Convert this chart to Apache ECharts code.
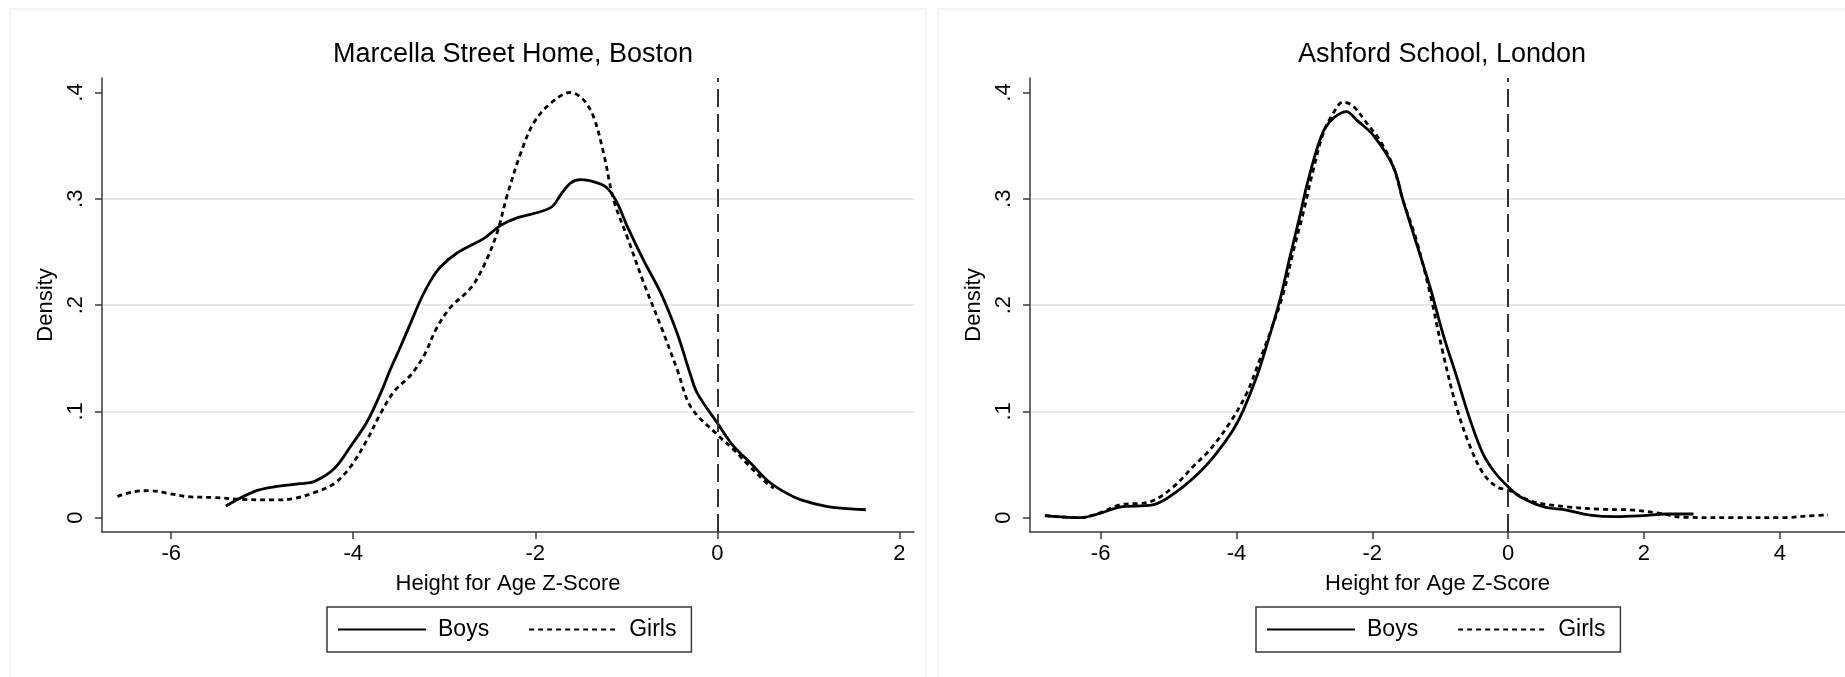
<!DOCTYPE html>
<html><head><meta charset="utf-8">
<script src="https://cdn.jsdelivr.net/npm/echarts@6/dist/echarts.min.js"></script>
<style>html,body{margin:0;padding:0;background:#fff}#c{width:1845px;height:677px}</style>
</head><body><div id="c"></div>
<script>
const panelTitles = ['Marcella Street Home, Boston', 'Ashford School, London'];
const seriesNames = ['Boys', 'Girls'];
const xAxisTitle = 'Height for Age Z-Score';
const yAxisTitle = 'Density';
const xTicksBoston = [-6, -4, -2, 0, 2];
const xTicksLondon = [-6, -4, -2, 0, 2, 4];
const yTicks = [0, 0.1, 0.2, 0.3, 0.4];
const yTickLabels = ['0', '.1', '.2', '.3', '.4'];
const refLineX = 0;

const bostonBoys = [[-5.40,0.011],[-5.09,0.0245],[-4.87,0.029],[-4.58,0.032],[-4.43,0.034],[-4.21,0.046],[-4.03,0.067],[-3.85,0.090],[-3.70,0.117],[-3.59,0.140],[-3.48,0.161],[-3.37,0.183],[-3.26,0.205],[-3.15,0.223],[-3.04,0.236],[-2.86,0.249],[-2.56,0.263],[-2.38,0.275],[-2.20,0.282],[-1.94,0.288],[-1.81,0.293],[-1.72,0.304],[-1.61,0.315],[-1.50,0.318],[-1.32,0.315],[-1.21,0.310],[-1.10,0.296],[-0.99,0.274],[-0.81,0.242],[-0.62,0.211],[-0.44,0.173],[-0.29,0.133],[-0.22,0.117],[0,0.089],[0.18,0.067],[0.37,0.051],[0.55,0.035],[0.73,0.0245],[0.92,0.0167],[1.21,0.0105],[1.63,0.0075]];
const bostonGirls = [[-6.59,0.020],[-6.41,0.0245],[-6.23,0.0254],[-6.04,0.023],[-5.82,0.0198],[-5.53,0.019],[-5.24,0.0173],[-4.87,0.0167],[-4.65,0.018],[-4.40,0.0245],[-4.21,0.032],[-4.03,0.048],[-3.85,0.073],[-3.70,0.098],[-3.55,0.119],[-3.37,0.134],[-3.22,0.153],[-3.08,0.179],[-2.93,0.198],[-2.71,0.216],[-2.56,0.238],[-2.42,0.268],[-2.31,0.303],[-2.16,0.343],[-2.02,0.371],[-1.83,0.390],[-1.61,0.400],[-1.47,0.393],[-1.36,0.377],[-1.25,0.343],[-1.14,0.299],[-0.99,0.264],[-0.81,0.221],[-0.62,0.180],[-0.44,0.139],[-0.29,0.104],[0,0.078],[0.18,0.064],[0.37,0.047],[0.55,0.032],[0.62,0.028]];
const londonBoys = [[-6.82,0.002],[-6.31,0.000],[-6.01,0.004],[-5.72,0.010],[-5.23,0.012],[-4.88,0.0245],[-4.54,0.043],[-4.29,0.061],[-4.05,0.0825],[-3.90,0.101],[-3.70,0.133],[-3.56,0.161],[-3.36,0.205],[-3.21,0.246],[-3.07,0.283],[-2.97,0.311],[-2.82,0.346],[-2.70,0.366],[-2.55,0.377],[-2.38,0.382],[-2.23,0.374],[-1.99,0.360],[-1.69,0.330],[-1.55,0.299],[-1.35,0.258],[-1.15,0.217],[-0.96,0.173],[-0.76,0.133],[-0.56,0.092],[-0.37,0.060],[-0.20,0.043],[0,0.029],[0.17,0.020],[0.52,0.0103],[0.86,0.0072],[1.20,0.0025],[1.60,0.001],[1.99,0.002],[2.33,0.0035],[2.73,0.0035]];
const londonGirls = [[-6.82,0.002],[-6.31,0.000],[-6.01,0.0045],[-5.72,0.012],[-5.27,0.015],[-4.93,0.029],[-4.64,0.048],[-4.39,0.064],[-4.10,0.089],[-3.85,0.117],[-3.66,0.148],[-3.51,0.173],[-3.31,0.211],[-3.17,0.249],[-3.02,0.286],[-2.87,0.327],[-2.72,0.362],[-2.58,0.380],[-2.43,0.391],[-2.28,0.387],[-2.08,0.371],[-1.89,0.355],[-1.69,0.330],[-1.55,0.299],[-1.35,0.261],[-1.15,0.211],[-0.96,0.155],[-0.76,0.104],[-0.56,0.067],[-0.37,0.042],[-0.17,0.029],[0,0.026],[0.37,0.015],[0.86,0.0103],[1.35,0.008],[1.84,0.0072],[2.24,0.004],[2.58,0.0004],[3.32,0.0],[4.05,0.0],[4.40,0.0016],[4.71,0.0025]];

const FONT = 'Liberation Sans, Arial, Helvetica, sans-serif';
const AXIS_COLOR = '#3a3a3a';
const GRID_COLOR = '#e3ebee';

function xAxisCfg(gridIndex, min, max, ticks) {
  return {
    type: 'value', gridIndex, min, max,
    axisLine: { show: true, onZero: false, lineStyle: { color: AXIS_COLOR, width: 1.5 } },
    axisTick: { show: true, customValues: ticks, length: 7, lineStyle: { color: AXIS_COLOR, width: 1.5 } },
    axisLabel: { customValues: ticks, fontSize: 22, color: '#000', fontFamily: FONT, margin: 11,
      formatter: v => String(v) },
    splitLine: { show: false },
    name: xAxisTitle, nameLocation: 'middle', nameGap: 41,
    nameTextStyle: { fontSize: 22, color: '#000', fontFamily: FONT }
  };
}
function yAxisCfg(gridIndex) {
  return {
    type: 'value', gridIndex, min: -0.01345, max: 0.4136, splitNumber: 4,
    axisLine: { show: true, onZero: false, lineStyle: { color: AXIS_COLOR, width: 1.5 } },
    axisTick: { show: true, customValues: yTicks, length: 7, lineStyle: { color: AXIS_COLOR, width: 1.5 } },
    axisLabel: { customValues: yTicks, rotate: 90, fontSize: 22, color: '#000', fontFamily: FONT, margin: 15,
      formatter: v => { const i = yTicks.findIndex(t => Math.abs(t - v) < 1e-9); return i >= 0 ? yTickLabels[i] : ''; } },
    splitLine: { show: true, showMinLine: false, showMaxLine: false, lineStyle: { color: GRID_COLOR, width: 2 } },
    name: yAxisTitle, nameLocation: 'middle', nameGap: 45, nameRotate: 90,
    nameTextStyle: { fontSize: 22, color: '#000', fontFamily: FONT }
  };
}
function lineSeries(name, data, idx, dotted, withRef) {
  const s = {
    name, type: 'line', data, xAxisIndex: idx, yAxisIndex: idx,
    symbol: 'none', showSymbol: false, smooth: 0.35,
    lineStyle: { color: '#000', width: 2.8, type: dotted ? [5, 4] : 'solid' },
    itemStyle: { color: '#000' }, z: 3
  };
  if (withRef) {
    s.markLine = {
      silent: true, symbol: ['none', 'none'], label: { show: false },
      lineStyle: { color: '#333', width: 2, type: [18, 7] },
      data: [{ xAxis: refLineX }]
    };
  }
  return s;
}
function legendCfg(left) {
  return {
    data: seriesNames, left, top: 607, orient: 'horizontal', selectedMode: false,
    itemWidth: 88, itemHeight: 14, itemGap: 39,
    padding: [11, 15, 11, 10],
    borderColor: AXIS_COLOR, borderWidth: 1.5, backgroundColor: '#fff',
    itemStyle: { color: 'rgba(0,0,0,0)', borderColor: 'rgba(0,0,0,0)', borderWidth: 0, opacity: 0 },
    textStyle: { fontSize: 23, color: '#000', fontFamily: FONT, padding: [0, 0, 0, 7] }
  };
}

const chart = echarts.init(document.getElementById('c'), null, { renderer: 'canvas' });
chart.setOption({
  animation: false,
  backgroundColor: '#fff',
  graphic: [
    { type: 'rect', shape: { x: 10, y: 9, width: 916, height: 700 }, style: { fill: 'none', stroke: '#edf1f4', lineWidth: 1.5 }, z: -10 },
    { type: 'rect', shape: { x: 938, y: 9, width: 920, height: 700 }, style: { fill: 'none', stroke: '#edf1f4', lineWidth: 1.5 }, z: -10 }
  ],
  title: [
    { text: panelTitles[0], left: 508, top: 36, textAlign: 'center', textStyle: { fontSize: 27, fontWeight: 'normal', color: '#000', fontFamily: FONT } },
    { text: panelTitles[1], left: 1437, top: 36, textAlign: 'center', textStyle: { fontSize: 27, fontWeight: 'normal', color: '#000', fontFamily: FONT } }
  ],
  legend: [legendCfg(327), legendCfg(1256)],
  grid: [
    { left: 102, top: 78, width: 812, height: 454, containLabel: false },
    { left: 1030, top: 78, width: 815, height: 454, containLabel: false }
  ],
  xAxis: [xAxisCfg(0, -6.76, 2.16, xTicksBoston), xAxisCfg(1, -7.04, 4.96, xTicksLondon)],
  yAxis: [yAxisCfg(0), yAxisCfg(1)],
  series: [
    lineSeries(seriesNames[0], bostonBoys, 0, false, true),
    lineSeries(seriesNames[1], bostonGirls, 0, true, false),
    lineSeries(seriesNames[0], londonBoys, 1, false, true),
    lineSeries(seriesNames[1], londonGirls, 1, true, false)
  ]
});
</script>
</body></html>
